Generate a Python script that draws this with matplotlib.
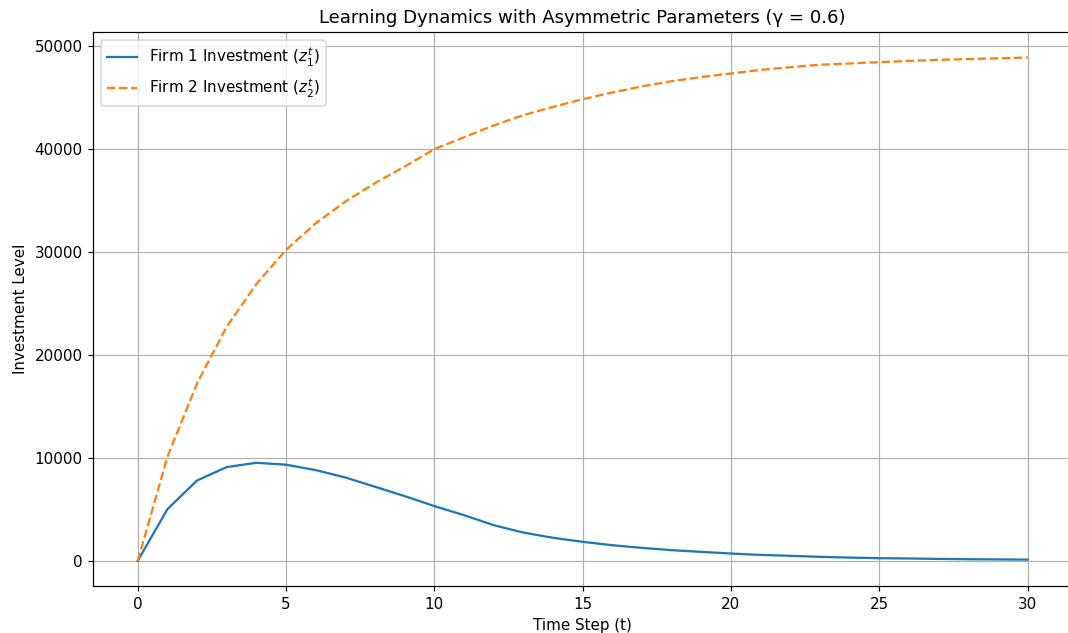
import numpy as np
import matplotlib
matplotlib.use('Agg')
import matplotlib.pyplot as plt

# Time steps and investment paths
t = list(range(31))

firm1 = [0, 5020, 7810, 9110, 9530, 9340, 8820, 8100, 7200, 6290,
         5320, 4440, 3470, 2750, 2240, 1850, 1520, 1260, 1040, 875,
         710, 580, 490, 390, 320, 260, 230, 190, 160, 140, 120]

firm2 = [0, 10100, 17240, 22750, 26900, 30200, 32800, 34900, 36700, 38300,
         40000, 41150, 42300, 43300, 44100, 44850, 45500, 46100, 46600, 47000,
         47350, 47700, 47960, 48200, 48320, 48450, 48570, 48670, 48750, 48820,
         48900]

gamma = 0.6

# Rendered a bit larger than 100 dpi so text matches the reference size
dpi = 109
fig = plt.figure(figsize=(1068 / dpi, 633 / dpi), dpi=dpi)
ax = fig.add_axes([0.0873, 0.0742, 0.9165, 0.8747])

ax.plot(t, firm1, label=r'Firm 1 Investment ($z_1^t$)')
ax.plot(t, firm2, linestyle='--', label=r'Firm 2 Investment ($z_2^t$)')

ax.set_title('Learning Dynamics with Asymmetric Parameters (\u03b3 = %s)' % gamma)
ax.set_xlabel('Time Step (t)')
ax.set_ylabel('Investment Level')
ax.legend(loc='upper left')
ax.grid(True)

fig.savefig('out.png', dpi=dpi)
